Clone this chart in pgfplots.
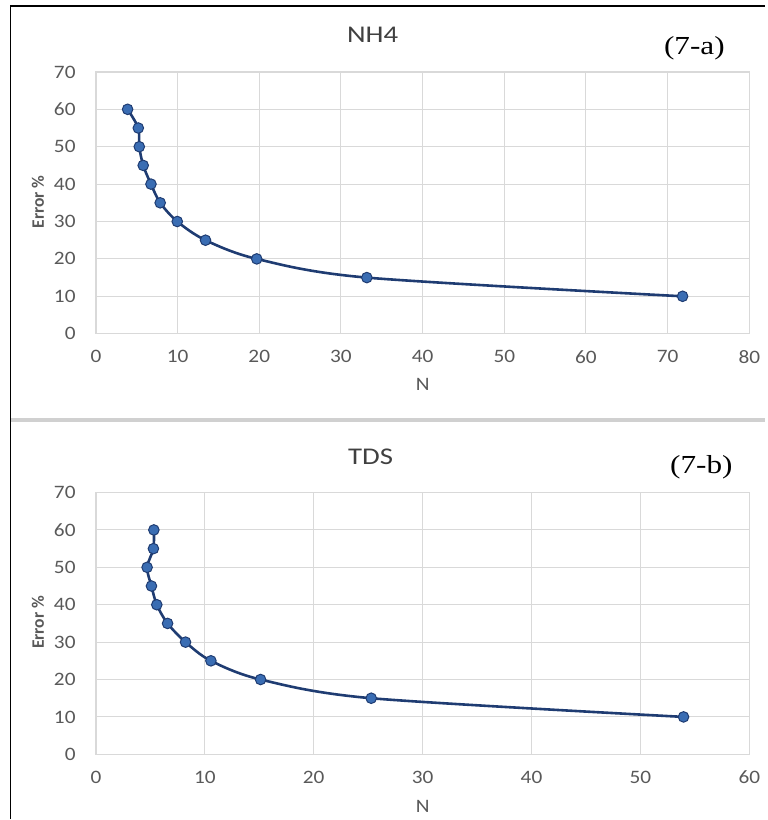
\documentclass[border=0pt]{standalone}
\usepackage{pgfplots}
\pgfplotsset{compat=1.18}
\usepackage{fontspec}
\setmainfont{Carlito}
\newfontfamily\serifnum{Liberation Serif}
\definecolor{gridc}{HTML}{D9D9D9}
\definecolor{tickc}{HTML}{595959}
\definecolor{titlec}{HTML}{404040}
\definecolor{linec}{HTML}{1F3C72}
\definecolor{markc}{HTML}{3A6DB3}
\definecolor{sepc}{HTML}{D0D0D0}
\pgfplotsset{myax/.style={
  scale only axis, width=654pt, height=262pt, anchor=south west,
  ymin=0, ymax=70, ytick={0,10,...,70}, xmin=0,
  grid=major, grid style={gridc, line width=1pt},
  axis line style={gridc, line width=1.2pt},
  tick style={draw=none},
  ticklabel style={font=\fontsize{19}{20}\selectfont, text=tickc, inner sep=0pt, xscale=1.12},
  xticklabel style={anchor=center, yshift=-23pt},
  yticklabel style={anchor=east, xshift=-18pt},
  /pgf/number format/assume math mode=true,
  clip=false,
}}
\begin{document}
\begin{tikzpicture}
\path (0pt,0pt) rectangle (765pt,820pt);
% frame
\draw[black, line width=1.5pt] (10.5pt,0pt) -- (10.5pt,814pt) -- (766pt,814pt);
\draw[sepc, line width=4pt] (11.3pt,399.5pt) -- (766pt,399.5pt);
% top panel
\begin{axis}[myax, at={(96pt,486pt)}, xmax=80, xtick={0,10,...,80}]
\addplot[smooth, tension=0.5, linec, line width=2.6pt, mark=*, mark size=5.3pt,
  mark options={fill=markc, draw=linec, line width=1pt}]
  coordinates {
  (3.88,60) (5.19,55) (5.31,50) (5.79,45) (6.74,40) (7.87,35)
  (9.96,30) (13.42,25) (19.69,20) (33.17,15) (71.83,10)
  };
\end{axis}
\node[font=\fontsize{24}{26}\selectfont, text=titlec, xscale=1.2] at (373pt,785pt) {NH4};
\node[font=\serifnum\fontsize{26}{28}\selectfont, xscale=1.2] at (695pt,772pt) {(7-a)};
\node[font=\fontsize{19}{20}\selectfont, text=tickc, xscale=1.12] at (423pt,435pt) {N};
\node[font=\bfseries\fontsize{17.5}{19}\selectfont, text=tickc, rotate=90] at (38pt,618pt) {Error \%};
% bottom panel
\begin{axis}[myax, at={(96pt,65pt)}, xmax=60, xtick={0,10,...,60}]
\addplot[smooth, tension=0.5, linec, line width=2.6pt, mark=*, mark size=5.3pt,
  mark options={fill=markc, draw=linec, line width=1pt}]
  coordinates {
  (5.32,60) (5.28,55) (4.70,50) (5.10,45) (5.59,40) (6.58,35)
  (8.23,30) (10.56,25) (15.12,20) (25.28,15) (53.96,10)
  };
\end{axis}
\node[font=\fontsize{24}{26}\selectfont, text=titlec, xscale=1.2] at (371pt,363pt) {TDS};
\node[font=\serifnum\fontsize{26}{28}\selectfont, xscale=1.2] at (702pt,352pt) {(7-b)};
\node[font=\fontsize{19}{20}\selectfont, text=tickc, xscale=1.12] at (423pt,13pt) {N};
\node[font=\bfseries\fontsize{17.5}{19}\selectfont, text=tickc, rotate=90] at (38pt,197pt) {Error \%};
\end{tikzpicture}
\end{document}
